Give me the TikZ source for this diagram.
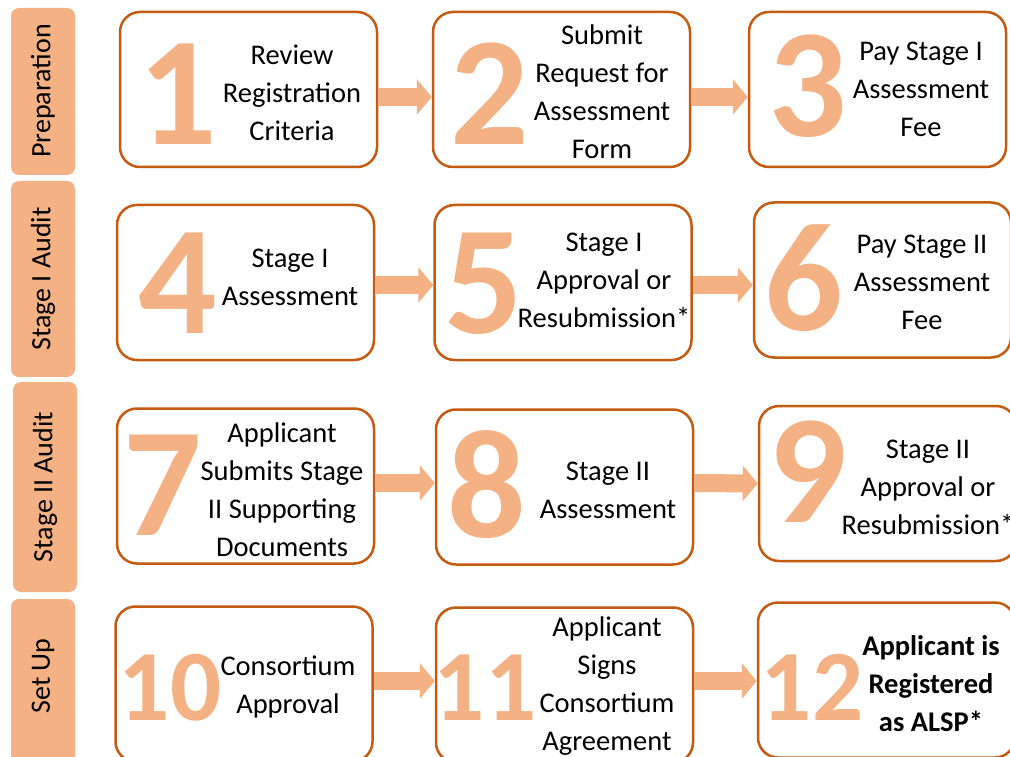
\documentclass[tikz,border=0pt]{standalone}
\usepackage{fontspec}
\setmainfont{Carlito}
\usetikzlibrary{arrows.meta}
\definecolor{rim}{HTML}{C55A11}
\definecolor{peach}{HTML}{F4B183}
\tikzset{
  stagebox/.style={draw=rim, line width=2.5pt, rounded corners=20pt, fill=white,
    minimum width=257pt, minimum height=155pt, inner sep=0pt},
  phase/.style={fill=peach, rounded corners=8pt},
  phaselabel/.style={rotate=90, font=\fontsize{28}{34}\selectfont, inner sep=0pt},
  bignum/.style={text=peach, font=\fontsize{155}{155}\bfseries\selectfont, anchor=base, inner sep=0pt},
  midnum/.style={text=peach, font=\fontsize{101}{101}\bfseries\selectfont, anchor=base, inner sep=0pt},
  steptext/.style={align=center, font=\fontsize{28.5}{38}\selectfont, inner sep=0pt},
  flow/.style={draw=peach, line width=18pt, -{Triangle[length=15pt,width=35pt]}}
}
\begin{document}
\begin{tikzpicture}[x=1pt,y=-1pt]
\clip (0,0) rectangle (1010,757);
\fill[white] (0,0) rectangle (1010,757);
% phases on the left
\fill[phase] (11,8) rectangle (75,175);
\node[phaselabel] (pPrep) at (43,91) {Preparation};
\fill[phase] (11,181) rectangle (75,377);
\node[phaselabel] (pStageI) at (43,279) {Stage I Audit};
\fill[phase] (13,382) rectangle (77,592);
\node[phaselabel] (pStageII) at (45,487) {Stage II Audit};
\fill[phase] (11,599) rectangle (75,790);
\node[phaselabel] (pSetUp) at (43,676) {Set Up};
% boxes
\node[stagebox] (b1) at (248.5,89.5) {};
\node[stagebox] (b2) at (561.5,89.5) {};
\node[stagebox] (b3) at (877.5,89.5) {};
\node[stagebox] (b4) at (245.5,282.5) {};
\node[stagebox] (b5) at (563,282.5) {};
\node[stagebox] (b6) at (882.5,280) {};
\node[stagebox] (b7) at (245.5,486) {};
\node[stagebox] (b8) at (564.5,487) {};
\node[stagebox] (b9) at (887.5,483.5) {};
\node[stagebox] (b10) at (244,684) {};
\node[stagebox] (b11) at (564.5,685) {};
\node[stagebox] (b12) at (886.5,680) {};
% big numbers
\node[bignum] (n1) at (178,145) {1};
\node[bignum] (n2) at (490,145) {2};
\node[bignum] (n3) at (808,137) {3};
\node[bignum] (n4) at (178,333) {4};
\node[bignum] (n5) at (484,333) {5};
\node[bignum] (n6) at (804,330) {6};
\node[bignum] (n7) at (163,535) {7};
\node[bignum] (n8) at (487,537) {8};
\node[bignum] (n9) at (808,522) {9};
\node[midnum] (n10) at (170,720) {10};
\node[midnum] (n11) at (485,720) {11};
\node[midnum] (n12) at (812,720) {12};
% texts
\node[steptext] (t1) at (292,93) {Review\\Registration\\Criteria};
\node[steptext] (t2) at (602,92) {Submit\\Request for\\Assessment\\Form};
\node[steptext] (t3) at (921,89) {Pay Stage I\\Assessment\\Fee};
\node[steptext] (t4) at (290,277) {Stage I\\Assessment};
\node[steptext] (t5) at (604,280) {Stage I\\Approval or\\Resubmission*};
\node[steptext] (t6) at (922,282) {Pay Stage II\\Assessment\\Fee};
\node[steptext] (t7) at (282,490) {Applicant\\Submits Stage\\II Supporting\\Documents};
\node[steptext] (t8) at (608,490) {Stage II\\Assessment};
\node[steptext] (t9) at (928,487) {Stage II\\Approval or\\Resubmission*};
\node[steptext] (t10) at (288,687) {Consortium\\Approval};
\node[steptext] (t11) at (607,686) {Applicant\\Signs\\Consortium\\Agreement};
\node[steptext, font=\fontsize{28.5}{38}\bfseries\selectfont] (t12) at (931,684) {Applicant is\\Registered\\as ALSP*};
% arrows
\draw[flow] ([yshift=-7.5pt]b1.east) -- ([yshift=-7.5pt]b2.west);
\draw[flow] ([yshift=-7.5pt]b2.east) -- ([yshift=-7.5pt]b3.west);
\draw[flow] ([yshift=-2.5pt]b4.east) -- ([yshift=-2.5pt]b5.west);
\draw[flow] ([yshift=-2.5pt]b5.east) -- ([yshift=-5pt]b6.west);
\draw[flow] ([yshift=3pt]b7.east) -- ([yshift=4pt]b8.west);
\draw[flow] ([yshift=4pt]b8.east) -- ([yshift=0pt]b9.west);
\draw[flow] ([yshift=3pt]b10.east) -- ([yshift=4pt]b11.west);
\draw[flow] ([yshift=4pt]b11.east) -- ([yshift=-1pt]b12.west);
\end{tikzpicture}
\end{document}
